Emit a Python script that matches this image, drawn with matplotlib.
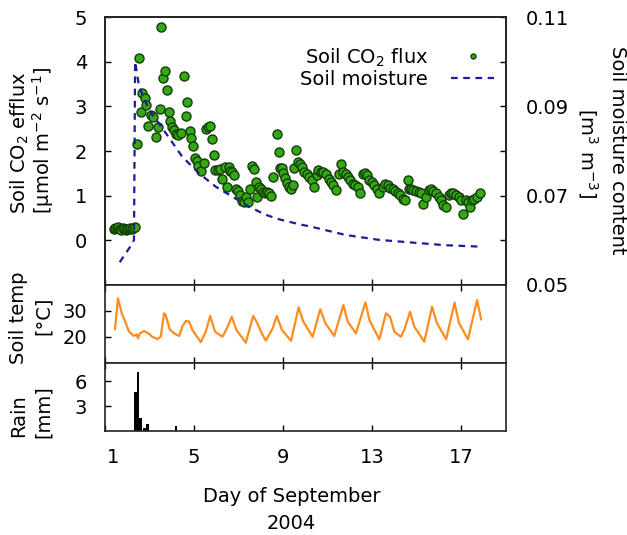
import numpy as np
import matplotlib
matplotlib.use("Agg")
import matplotlib.pyplot as plt
import matplotlib.transforms as mtransforms

plt.rcParams['font.family'] = ['DejaVu Sans']
plt.rcParams['mathtext.default'] = 'regular'

# ---- data ----
# soil CO2 efflux (day of September, umol m-2 s-1)
flux_day = [1.40, 1.47, 1.53, 1.60, 1.67, 1.73, 1.80, 1.87, 1.93, 2.00,
            2.07, 2.13, 2.20, 2.27, 2.35,
            2.45, 2.53, 2.60, 2.68, 2.78, 2.86, 2.95, 3.05, 3.16, 3.27,
            3.38, 3.45, 3.50, 3.61, 3.70, 3.77, 3.85, 3.92, 4.02, 4.10,
            4.20, 4.29, 4.43, 4.55, 4.63, 4.70, 4.81, 4.88, 4.97, 5.04,
            5.12, 5.19, 5.30, 5.45, 5.52, 5.63, 5.70, 5.79, 5.87, 5.93,
            6.05, 6.15, 6.24, 6.39, 6.47, 6.57, 6.62, 6.69, 6.78, 6.87,
            6.98, 7.07, 7.14, 7.25, 7.32, 7.43, 7.52, 7.59, 7.70, 7.77,
            7.84, 7.92, 8.02, 8.10, 8.18, 8.26, 8.34, 8.44, 8.52, 8.70,
            8.79, 8.87, 8.94, 9.01, 9.09, 9.17, 9.24, 9.34, 9.42, 9.49,
            9.57, 9.64, 9.75, 9.84, 9.94, 10.05, 10.16, 10.28, 10.39, 10.50,
            10.58, 10.69, 10.80, 10.91, 11.04, 11.14, 11.25, 11.37, 11.49, 11.59,
            11.70, 11.81, 11.92, 12.01, 12.11, 12.24, 12.34, 12.44, 12.56, 12.67,
            12.76, 12.87, 12.98, 13.09, 13.19, 13.31, 13.46, 13.58, 13.69, 13.81,
            13.91, 14.03, 14.14, 14.24, 14.36, 14.48, 14.59, 14.66, 14.73, 14.84,
            14.96, 15.08, 15.18, 15.29, 15.41, 15.53, 15.63, 15.74, 15.86, 15.98,
            16.08, 16.19, 16.31, 16.43, 16.54, 16.64, 16.76, 16.87, 16.98, 17.06,
            17.18, 17.28, 17.39, 17.48, 17.58, 17.69, 17.81]
flux_val = [0.25, 0.28, 0.27, 0.29, 0.25, 0.24, 0.27, 0.25, 0.24, 0.26,
            0.25, 0.27, 0.26, 0.28, 0.30,
            2.15, 4.09, 2.88, 3.30, 3.18, 3.03, 2.56, 2.80, 2.76, 2.32,
            2.54, 2.95, 4.77, 3.64, 3.80, 3.36, 2.87, 2.68, 2.54, 2.47,
            2.39, 2.35, 2.41, 3.68, 2.79, 3.09, 2.44, 2.28, 2.11, 1.85,
            1.77, 1.67, 1.55, 1.74, 2.50, 2.54, 2.56, 2.26, 1.92, 1.57,
            1.57, 1.59, 1.38, 1.64, 1.20, 1.64, 1.55, 1.52, 1.47, 1.14,
            1.10, 1.01, 0.87, 0.86, 0.97, 0.86, 1.14, 1.67, 1.59, 1.31,
            0.96, 1.20, 1.14, 1.08, 1.05, 1.08, 1.06, 0.99, 1.42, 2.38,
            1.98, 1.61, 1.61, 1.51, 1.40, 1.28, 1.20, 1.14, 1.23, 1.61,
            2.02, 1.76, 1.72, 1.64, 1.53, 1.48, 1.42, 1.35, 1.20, 1.46,
            1.57, 1.53, 1.53, 1.48, 1.38, 1.31, 1.23, 1.12, 1.48, 1.70,
            1.53, 1.49, 1.42, 1.35, 1.26, 1.23, 1.20, 1.06, 1.49, 1.51,
            1.46, 1.35, 1.31, 1.23, 1.16, 1.05, 1.20, 1.27, 1.23, 1.18,
            1.14, 1.10, 1.06, 1.01, 0.93, 0.91, 1.35, 1.16, 1.14, 1.12,
            1.11, 1.08, 1.05, 0.82, 0.97, 1.12, 1.14, 1.11, 1.05, 0.97,
            0.90, 0.78, 0.75, 1.01, 1.06, 1.05, 1.01, 0.97, 0.90, 0.60,
            0.90, 0.86, 0.75, 0.90, 0.93, 0.97, 1.05]

# soil moisture (m3 m-3)
moist_day = [1.66, 2.23, 2.30, 2.35, 2.53, 2.98, 3.73, 4.47, 5.22, 5.97,
             6.71, 7.47, 8.22, 8.82, 9.72, 10.3, 11.8, 13.3, 14.8, 16.3, 17.8]
moist_val = [0.0551, 0.0593, 0.0601, 0.1000, 0.0944, 0.0892, 0.0840, 0.0787,
             0.0750, 0.0720, 0.0698, 0.0675, 0.0657, 0.0647, 0.0636, 0.0630,
             0.0612, 0.0601, 0.0595, 0.0589, 0.0586]

# soil temperature (deg C)
temp_day = [1.45, 1.58, 1.75, 1.93, 2.08, 2.30, 2.41, 2.48, 2.56, 2.75,
            2.95, 3.12, 3.35, 3.50, 3.65, 3.72, 3.90, 4.10, 4.33, 4.47,
            4.63, 4.78, 4.92, 5.30, 5.52, 5.72, 5.94, 6.27, 6.47, 6.69,
            6.90, 7.32, 7.65, 7.80, 8.07, 8.22, 8.52, 8.71, 8.94, 9.35,
            9.69, 9.90, 10.32, 10.66, 10.89, 11.29, 11.70, 11.89, 12.26, 12.69,
            12.87, 13.31, 13.61, 13.79, 13.99, 14.28, 14.43, 14.69, 14.88, 15.33,
            15.68, 15.89, 16.31, 16.69, 16.88, 17.29, 17.70, 17.88]
temp_val = [23.0, 34.9, 29.1, 25.3, 22.0, 20.4, 21.0, 19.5, 21.4, 22.3,
            21.4, 20.1, 19.2, 20.1, 29.1, 28.5, 23.0, 21.4, 20.4, 24.0,
            26.2, 25.9, 22.7, 18.0, 22.0, 28.1, 22.0, 20.1, 23.3, 27.8,
            22.7, 17.8, 28.1, 25.9, 20.8, 18.6, 23.3, 28.1, 22.7, 18.5,
            31.4, 25.9, 20.1, 30.7, 25.3, 20.4, 32.3, 25.9, 21.4, 33.3,
            26.5, 19.1, 29.1, 27.8, 22.0, 20.1, 22.7, 29.7, 24.0, 18.2,
            31.7, 25.5, 19.1, 33.2, 25.5, 19.1, 34.2, 26.8]

# rain (mm)
rain_day = [2.38, 2.48, 2.58, 2.76, 2.90, 4.18]
rain_val = [4.7, 7.1, 1.6, 0.4, 0.8, 0.6]

xticks = [1, 5, 9, 13, 17]

fig = plt.figure(figsize=(6.27, 5.35), dpi=100)
L, W = 0.1675, 0.6396
ax1 = fig.add_axes([L, 0.4673, W, 0.5009])
ax1r = ax1.twinx()
ax2 = fig.add_axes([L, 0.3215, W, 0.1458])
ax3 = fig.add_axes([L, 0.1944, W, 0.1271])

fs = 14
for a in (ax1, ax1r, ax2, ax3):
    a.set_xlim(1, 19)
    a.set_xticks(xticks)
    for s in a.spines.values():
        s.set_linewidth(1.2)
        s.set_color('#222222')
    a.tick_params(direction='in', length=4, width=1, labelsize=fs, pad=13)

# top panel
ax1.plot(flux_day, flux_val, 'o', ms=6.5, mfc='#33aa14', mec='#143c08', mew=1.0,
         label='Soil CO$_2$ flux')
ax1.set_ylim(-1, 5)
ax1.set_yticks([-1, 0, 1, 2, 3, 4, 5])
ax1.set_yticklabels(['', '0', '1', '2', '3', '4', '5'])
ax1.tick_params(axis='x', labelbottom=False, top=False)

ax1r.plot(moist_day, moist_val, '--', color='#1c1c96', lw=1.6, dashes=(3, 2.5),
          label='Soil moisture')
ax1r.set_ylim(0.05, 0.11)
ax1r.set_yticks([0.05, 0.06, 0.07, 0.08, 0.09, 0.10, 0.11])
ax1r.set_yticklabels(['0.05', '', '0.07', '', '0.09', '', '0.11'])
ax1r.tick_params(axis='y', pad=14)

h1, l1 = ax1.get_legend_handles_labels()
h2, l2 = ax1r.get_legend_handles_labels()
leg = ax1r.legend(h1 + h2, l1 + l2, loc='upper right', bbox_to_anchor=(0.99, 0.92),
                  frameon=False, markerfirst=False, fontsize=fs, markerscale=0.55,
                  handlelength=2.2, handletextpad=1.2, labelspacing=0.05,
                  borderaxespad=0)

# temperature panel
ax2.plot(temp_day, temp_val, '-', color='#ff8c1e', lw=1.6)
ax2.set_ylim(10, 40)
ax2.set_yticks([20, 30])
ax2.tick_params(axis='x', labelbottom=False, top=True)

# rain panel
ax3.bar(rain_day, rain_val, width=0.12, color='black')
ax3.set_ylim(0, 8.2)
ax3.set_yticks([3, 6])
ax3.tick_params(axis='x', top=True, pad=12)

# nudge the first day label like the reference
lab0 = ax3.get_xticklabels()[0]
lab0.set_transform(lab0.get_transform() +
                   mtransforms.ScaledTranslation(6 / 72, 0, fig.dpi_scale_trans))

# axis titles
fig.text(0.032, 0.733, 'Soil CO$_2$ efflux', rotation=90, ha='center', va='center', fontsize=fs)
fig.text(0.0686, 0.737, '[μmol m$^{-2}$ s$^{-1}$]', rotation=90, ha='center', va='center', fontsize=fs)
fig.text(0.030, 0.406, 'Soil temp', rotation=90, ha='center', va='center', fontsize=fs)
fig.text(0.0686, 0.409, '[°C]', rotation=90, ha='center', va='center', fontsize=fs)
fig.text(0.030, 0.224, 'Rain', rotation=90, ha='center', va='center', fontsize=fs)
fig.text(0.0686, 0.230, '[mm]', rotation=90, ha='center', va='center', fontsize=fs)
fig.text(0.9856, 0.72, 'Soil moisture content', rotation=270, ha='center', va='center', fontsize=fs)
fig.text(0.938, 0.714, '[m$^3$ m$^{-3}$]', rotation=270, ha='center', va='center', fontsize=fs)
fig.text(0.465, 0.062, 'Day of September', ha='center', va='baseline', fontsize=fs)
fig.text(0.465, 0.012, '2004', ha='center', va='baseline', fontsize=fs)

fig.savefig('out.png', dpi=100)
